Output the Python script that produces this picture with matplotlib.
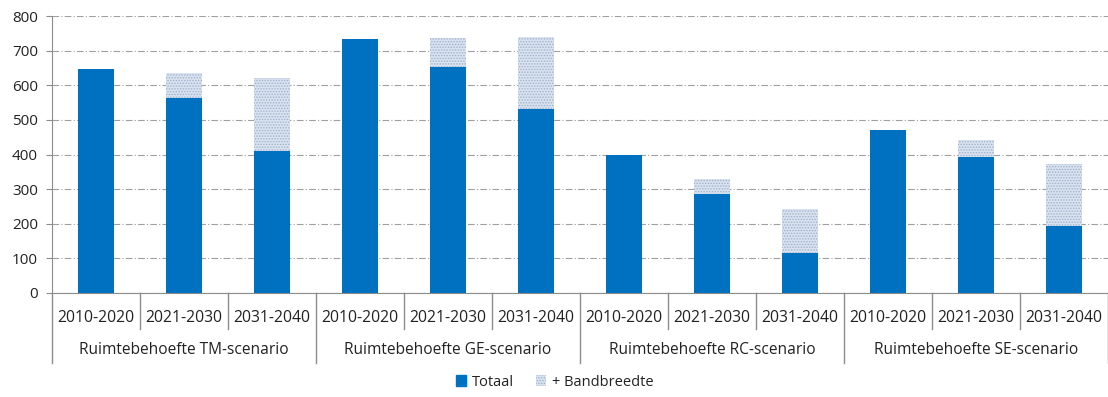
import numpy as np
import matplotlib
matplotlib.use("Agg")
import matplotlib.pyplot as plt
from matplotlib.patches import Patch

plt.rcParams["font.family"] = ["Open Sans", "DejaVu Sans"]
plt.rcParams["hatch.linewidth"] = 0.7

SCENARIOS = ["Ruimtebehoefte TM-scenario", "Ruimtebehoefte GE-scenario",
             "Ruimtebehoefte RC-scenario", "Ruimtebehoefte SE-scenario"]
PERIODS = ["2010-2020", "2021-2030", "2031-2040"]

# totaal per periode, per scenario achter elkaar
TOTAAL = [648, 562, 409,
          735, 653, 530,
          398, 287, 116,
          471, 393, 194]
# bovengrens inclusief bandbreedte
BOVENGRENS = [648, 636, 621,
              735, 737, 740,
              398, 330, 244,
              471, 442, 373]

BLUE = "#0070C0"
BAND_FACE = "#d9e2ef"
BAND_HATCH = "#9fb2cc"
GRID = "#a0a0a0"
AXIS = "#8c8c8c"
TEXT = "#222222"

n = len(TOTAAL)
x = np.arange(n)
band = np.array(BOVENGRENS) - np.array(TOTAAL)

fig = plt.figure(figsize=(11.08, 3.97), dpi=100)
ax = fig.add_axes([52 / 1108, 1 - 293 / 397, 1 - 52 / 1108, (293 - 16) / 397])

ax.bar(x, TOTAAL, width=0.41, color=BLUE, zorder=3)
ax.bar(x, band, bottom=TOTAAL, width=0.41, facecolor=BAND_FACE,
       edgecolor=BAND_HATCH, hatch="......", linewidth=0, zorder=3)

ax.set_xlim(-0.5, n - 0.5)
ax.set_ylim(0, 800)
ax.set_yticks(range(0, 801, 100))
ax.yaxis.grid(True, color=GRID, linestyle=(0, (6, 2, 1, 2)), linewidth=0.8)
ax.set_axisbelow(True)
ax.tick_params(axis="y", labelsize=11, length=4, color=AXIS, pad=6,
               labelcolor=TEXT)
ax.tick_params(axis="x", bottom=False, labelbottom=False)
for side in ("top", "right"):
    ax.spines[side].set_visible(False)
for side in ("left", "bottom"):
    ax.spines[side].set_color(AXIS)

# twee niveaus van categorielabels onder de as
trans = ax.get_xaxis_transform()
h_ax = (293 - 16) / 397 * 3.97 * 100  # hoogte van de assen in pixels
def dy(px):
    return -px / h_ax

for i in range(n):
    ax.text(x[i], dy(25), PERIODS[i % 3], transform=trans, ha="center",
            va="center", fontsize=11.3, color=TEXT)
for k in range(n + 1):
    xb = k - 0.5
    if k % 3 == 0:
        ax.plot([xb, xb], [0, dy(70)], transform=trans, color=AXIS,
                linewidth=1, clip_on=False)
    else:
        ax.plot([xb, xb], [0, dy(36)], transform=trans, color=AXIS,
                linewidth=1, clip_on=False)
for g, name in enumerate(SCENARIOS):
    ax.text(3 * g + 1, dy(57), name, transform=trans, ha="center",
            va="center", fontsize=11.2, color=TEXT)

handles = [Patch(facecolor=BLUE, edgecolor=BLUE),
           Patch(facecolor=BAND_FACE, edgecolor=BAND_HATCH, hatch="......", linewidth=0)]
fig.legend(handles, ["Totaal", "+ Bandbreedte"], loc="center",
           bbox_to_anchor=(555 / 1108, 1 - 382 / 397), ncol=2, frameon=False,
           fontsize=10.5, handlelength=0.7, handleheight=0.7, handletextpad=0.4,
           columnspacing=1.5, labelcolor=TEXT)

fig.savefig("out.png", dpi=100)
